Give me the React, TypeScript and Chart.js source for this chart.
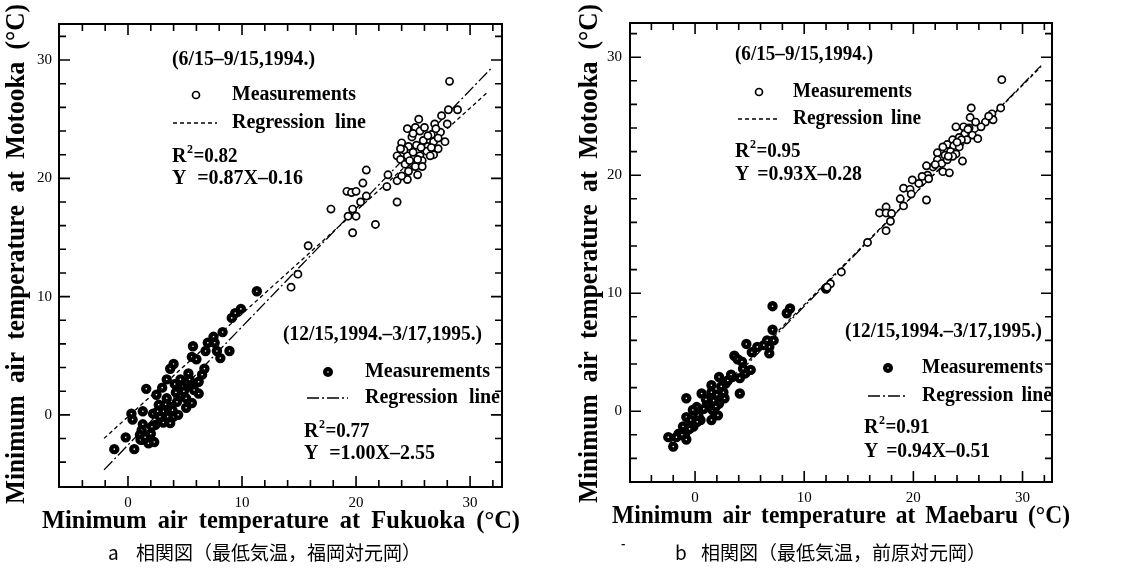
import React, { useEffect, useRef } from "react";
import { Chart, registerables } from "chart.js";
Chart.register(...registerables);

const PAGE_W = 1127;
const PAGE_H = 572;

const xTickLabels = [0, 10, 20, 30];
const yTickLabels = [0, 10, 20, 30];
const tickMarks = [-4, -2, 0, 2, 4, 6, 8, 10, 12, 14, 16, 18, 20, 22, 24, 26, 28, 30, 32];

// ---------- Panel a : Fukuoka vs Motooka ----------
const aSummerX = [28.2, 28.9, 28.1, 27.5, 26.9, 28.0, 25.5, 24.5, 25.2, 25.6, 26.6, 27.4, 24.9, 25.9, 24.0, 24.6, 25.3, 26.8, 27.8, 27.2, 26.3, 27.2, 23.6, 24.5, 25.0, 25.6, 26.2, 26.8, 23.9, 24.9, 25.8, 26.5, 24.3, 25.2, 25.8, 24.6, 25.4, 24.5, 23.6, 22.8, 22.7, 24.0, 23.6, 20.9, 20.6, 20.9, 20.4, 19.2, 19.6, 20.0, 19.7, 19.3, 20.0, 17.8, 21.7, 19.7, 15.8, 14.9, 14.3, 26.0, 25.0, 26.3, 24.2, 25.7, 27.0, 23.9, 26.6, 25.4, 24.7];
const aSummerY = [28.2, 25.8, 25.8, 25.3, 24.6, 24.6, 25.0, 24.2, 24.3, 24.0, 23.7, 23.9, 23.5, 23.2, 23.0, 22.7, 22.8, 23.1, 23.1, 23.4, 22.7, 22.5, 21.9, 21.9, 22.2, 21.9, 22.3, 22.0, 21.6, 21.3, 21.5, 21.9, 21.2, 21.0, 21.0, 20.6, 20.3, 19.9, 19.8, 20.3, 19.3, 20.2, 18.0, 20.7, 19.6, 18.5, 18.0, 18.9, 18.8, 18.9, 17.4, 16.8, 16.8, 17.4, 16.1, 15.4, 14.3, 11.9, 10.8, 24.3, 23.8, 23.6, 22.4, 22.6, 24.2, 22.5, 22.6, 21.6, 21.5];
const aWinterX = [11.3, 9.9, 9.4, 9.1, 8.3, 7.5, 7.0, 7.6, 6.8, 7.8, 8.9, 8.1, 5.7, 5.6, 6.0, 4.0, 3.7, 3.4, 4.6, 5.4, 6.5, 6.2, 4.8, 5.6, 3.0, 1.6, 6.2, 2.5, 3.4, 4.6, 5.1, 4.3, 5.6, 5.1, 2.7, 3.1, 3.7, 2.2, 1.3, 0.3, 0.4, 2.8, 3.5, 4.0, 3.1, 3.7, 2.4, 1.3, 2.1, 1.2, 1.05, 1.3, 1.8, 2.3, 1.1, -0.2, 0.55, -1.2, 4.2, 4.9, 3.9, 4.4, 2.0, 1.5, 5.8, 5.3, 4.1, 3.3, 2.6, 6.7];
const aWinterY = [10.45, 8.96, 8.6, 8.2, 7.0, 6.6, 6.1, 6.1, 5.4, 5.4, 5.4, 4.8, 5.8, 4.9, 4.7, 4.3, 3.9, 3.0, 3.0, 3.0, 3.4, 2.8, 2.4, 2.4, 2.3, 2.2, 1.8, 1.7, 1.4, 1.7, 1.4, 1.1, 1.0, 0.6, 0.85, 0.3, 0.7, 0.1, 0.3, 0.1, -0.4, -0.15, -0.15, -0.15, -0.65, -0.7, -0.85, -0.8, -1.0, -1.3, -1.7, -2.1, -2.4, -2.3, -2.1, -1.9, -2.9, -2.9, 1.9, 2.0, 0.4, 0.0, -1.6, -1.9, 2.1, 3.5, 2.6, 0.9, 0.3, 3.9];
const aSummerFit = [0.87, -0.16];
const aWinterFit = [1.0, -2.55];
const aSummerLineX = [-2.1, 31.5];
const aWinterLineX = [-2.1, 31.8];

// ---------- Panel b : Maebaru vs Motooka ----------
const bSummerX = [28.1, 28.0, 27.2, 27.3, 26.6, 26.2, 25.3, 25.2, 25.7, 23.9, 24.6, 25.1, 24.7, 25.4, 24.2, 24.9, 25.9, 23.6, 23.1, 23.7, 24.2, 22.7, 23.4, 23.9, 22.2, 22.9, 23.6, 22.2, 22.6, 23.1, 24.5, 21.8, 21.2, 22.7, 23.3, 21.3, 20.8, 21.4, 19.9, 20.5, 19.1, 19.7, 19.8, 18.8, 21.2, 19.1, 17.5, 16.9, 17.5, 18.0, 17.9, 17.5, 15.8, 13.4, 12.4, 12.1, 24.4, 23.2, 25.0, 24.0, 22.0, 26.9];
const bSummerY = [28.1, 25.7, 25.2, 24.7, 24.5, 24.1, 25.7, 24.9, 24.5, 24.1, 24.1, 24.0, 23.5, 23.4, 23.2, 23.0, 23.1, 23.0, 22.6, 22.5, 22.4, 22.4, 22.0, 21.8, 21.9, 21.7, 21.6, 21.3, 21.0, 21.3, 21.2, 20.7, 20.8, 20.3, 20.2, 20.0, 19.9, 19.7, 19.6, 19.3, 18.9, 18.8, 18.4, 18.0, 17.9, 17.4, 17.3, 16.8, 16.8, 16.75, 16.1, 15.3, 14.3, 11.8, 10.8, 10.5, 23.0, 21.6, 23.9, 22.8, 20.9, 25.0];
const bWinterX = [7.1, 8.7, 8.4, 7.1, 7.2, 6.6, 6.8, 6.8, 4.7, 5.7, 5.2, 3.6, 3.9, 4.3, 5.1, 4.6, 3.4, 4.1, 2.2, 2.8, 1.5, 2.4, 4.1, 0.6, 1.5, 2.0, 2.7, -0.8, 1.7, 1.1, 2.2, 0.15, 0.8, 1.6, -0.2, 2.1, 0.3, -0.8, -0.4, 1.5, 0.5, -0.15, -1.1, -0.9, -1.5, -2.45, -1.7, -0.8, -2.0, 12.0, 3.0, 3.3, 1.0, 0.2, -0.5, 2.6, 4.4, 6.3, 1.9, -1.2];
const bWinterY = [8.9, 8.7, 8.3, 6.9, 6.0, 6.0, 5.45, 4.9, 5.7, 5.45, 5.0, 4.7, 4.4, 4.2, 3.5, 3.2, 2.9, 2.8, 2.9, 2.35, 2.2, 2.1, 1.5, 1.5, 1.6, 1.4, 1.1, 1.1, 0.9, 0.65, 0.65, 0.35, 0.2, 0.1, 0.1, -0.35, -0.35, -0.5, -0.75, -0.75, -0.75, -1.3, -1.3, -1.9, -1.9, -2.2, -2.2, -2.4, -3.0, 10.4, 2.6, 3.1, 1.0, -0.9, -1.5, 1.6, 3.6, 5.6, 0.4, -2.0];
const bSummerFit = [0.93, -0.28];
const bWinterFit = [0.94, -0.51];
const bSummerLineX = [-2.3, 31.7];
const bWinterLineX = [-2.3, 31.7];

const NOTE_FONT = "bold 20px 'Liberation Serif'";

type Note = { t: string; x0: number; x1: number; y: number };
type R2 = { t: string; x: number; y: number };
type Glyph = { kind: string; x0: number; x1: number; y: number };

interface PanelCfg {
  area: { left: number; top: number; right: number; bottom: number };
  range: { xMin: number; xMax: number; yMin: number; yMax: number };
  summerX: number[]; summerY: number[]; winterX: number[]; winterY: number[];
  summerFit: number[]; winterFit: number[]; summerLineX: number[]; winterLineX: number[];
  xTitle: string; xTitlePos: number[]; xTitleSize: number;
  yTitle: string; yTitlePos: number[]; yTitleSize: number;
  yTickPad: number;
  notes: Note[]; r2: R2[]; glyphs: Glyph[];
}

const panelA: PanelCfg = {
  area: { left: 59, top: 24, right: 502, bottom: 487 },
  range: { xMin: -6.05, xMax: 32.8, yMin: -6.1, yMax: 33.05 },
  summerX: aSummerX, summerY: aSummerY, winterX: aWinterX, winterY: aWinterY,
  summerFit: aSummerFit, winterFit: aWinterFit, summerLineX: aSummerLineX, winterLineX: aWinterLineX,
  xTitle: "Minimum air temperature at Fukuoka (°C)", xTitlePos: [42, 520, 521], xTitleSize: 26,
  yTitle: "Minimum air temperature at Motooka (°C)", yTitlePos: [17, 504, 4], yTitleSize: 27,
  yTickPad: 7,
  notes: [
    { t: "(6/15–9/15,1994.)", x0: 172, x1: 315, y: 60 },
    { t: "Measurements", x0: 232, x1: 356, y: 95 },
    { t: "Regression line", x0: 232, x1: 366, y: 123 },
    { t: "Y =0.87X–0.16", x0: 172, x1: 303, y: 179 },
    { t: "(12/15,1994.–3/17,1995.)", x0: 283, x1: 482, y: 335 },
    { t: "Measurements", x0: 365, x1: 490, y: 372 },
    { t: "Regression line", x0: 365, x1: 500, y: 398 },
    { t: "Y =1.00X–2.55", x0: 304, x1: 435, y: 454 },
  ],
  r2: [
    { t: "=0.82", x: 172, y: 157 },
    { t: "=0.77", x: 304, y: 432 },
  ],
  glyphs: [
    { kind: "open", x0: 196, x1: 196, y: 95 },
    { kind: "dash", x0: 173, x1: 217, y: 123 },
    { kind: "filled", x0: 328, x1: 328, y: 372 },
    { kind: "dashdot", x0: 307, x1: 348, y: 398 },
  ],
};

const panelB: PanelCfg = {
  area: { left: 630, top: 23, right: 1052, bottom: 482 },
  range: { xMin: -5.96, xMax: 32.7, yMin: -6.0, yMax: 32.9 },
  summerX: bSummerX, summerY: bSummerY, winterX: bWinterX, winterY: bWinterY,
  summerFit: bSummerFit, winterFit: bWinterFit, summerLineX: bSummerLineX, winterLineX: bWinterLineX,
  xTitle: "Minimum air temperature at Maebaru (°C)", xTitlePos: [612, 1070, 517], xTitleSize: 25,
  yTitle: "Minimum air temperature at Motooka (°C)", yTitlePos: [590, 503, 4], yTitleSize: 27,
  yTickPad: 8,
  notes: [
    { t: "(6/15–9/15,1994.)", x0: 735, x1: 873, y: 55 },
    { t: "Measurements", x0: 793, x1: 912, y: 92 },
    { t: "Regression line", x0: 793, x1: 921, y: 119 },
    { t: "Y =0.93X–0.28", x0: 735, x1: 862, y: 175 },
    { t: "(12/15,1994.–3/17,1995.)", x0: 845, x1: 1042, y: 332 },
    { t: "Measurements", x0: 922, x1: 1043, y: 368 },
    { t: "Regression line", x0: 922, x1: 1052, y: 396 },
    { t: "Y =0.94X–0.51", x0: 864, x1: 990, y: 452 },
  ],
  r2: [
    { t: "=0.95", x: 735, y: 152 },
    { t: "=0.91", x: 864, y: 428 },
  ],
  glyphs: [
    { kind: "open", x0: 759, x1: 759, y: 92 },
    { kind: "dash", x0: 738, x1: 778, y: 119 },
    { kind: "filled", x0: 888, x1: 888, y: 368 },
    { kind: "dashdot", x0: 868, x1: 908, y: 396 },
  ],
};

function fitWords(ctx: CanvasRenderingContext2D, text: string, x0: number, x1: number, cy: number, sx: number, minGap: number) {
  const words = text.split(" ");
  const ws = words.map((w) => ctx.measureText(w).width * sx);
  const total = ws.reduce((a, b) => a + b, 0);
  const target = x1 - x0;
  let gap = words.length > 1 ? (target - total) / (words.length - 1) : 0;
  let scale = 1;
  if (words.length === 1) scale = target / total;
  else if (gap < minGap) {
    gap = minGap;
    scale = (target - gap * (words.length - 1)) / total;
  }
  let x = x0;
  words.forEach((w, i) => {
    ctx.save();
    ctx.translate(x, cy);
    ctx.scale(sx * scale, 1);
    ctx.fillText(w, 0, 0);
    ctx.restore();
    x += ws[i] * scale + gap;
  });
}

function drawR2(ctx: CanvasRenderingContext2D, r: R2) {
  ctx.font = NOTE_FONT;
  ctx.fillText("R", r.x, r.y);
  const w1 = ctx.measureText("R").width;
  ctx.font = "bold 12px 'Liberation Serif'";
  ctx.fillText("2", r.x + w1 + 0.5, r.y - 7);
  const w2 = ctx.measureText("2").width;
  ctx.font = NOTE_FONT;
  ctx.save();
  ctx.translate(r.x + w1 + w2 + 1, r.y);
  ctx.scale(0.95, 1);
  ctx.fillText(r.t, 0, 0);
  ctx.restore();
}

function makeDecor(p: PanelCfg) {
  return {
    id: "decor",
    afterDraw(chart: any) {
      const ctx: CanvasRenderingContext2D = chart.ctx;
      const { left, right, top, bottom } = chart.chartArea;
      const xs = chart.scales.x;
      const ys = chart.scales.y;
      ctx.save();
      ctx.strokeStyle = "#000";
      ctx.fillStyle = "#000";
      ctx.setLineDash([]);
      ctx.lineWidth = 2;
      ctx.strokeRect(left, top, right - left, bottom - top);
      ctx.lineWidth = 1.6;
      ctx.beginPath();
      for (const v of tickMarks) {
        const len = v % 10 === 0 ? 11 : 7;
        if (v >= xs.min && v <= xs.max) {
          const px = xs.getPixelForValue(v);
          ctx.moveTo(px, bottom);
          ctx.lineTo(px, bottom - len);
          ctx.moveTo(px, top);
          ctx.lineTo(px, top + len);
        }
        if (v >= ys.min && v <= ys.max) {
          const py = ys.getPixelForValue(v);
          ctx.moveTo(left, py);
          ctx.lineTo(left + len, py);
          ctx.moveTo(right, py);
          ctx.lineTo(right - len, py);
        }
      }
      ctx.stroke();

      ctx.textBaseline = "middle";
      ctx.textAlign = "left";
      ctx.font = `bold ${p.xTitleSize}px 'Liberation Serif'`;
      fitWords(ctx, p.xTitle, p.xTitlePos[0], p.xTitlePos[1], p.xTitlePos[2], 0.94, 6);
      ctx.save();
      ctx.translate(p.yTitlePos[0], p.yTitlePos[1]);
      ctx.rotate(-Math.PI / 2);
      ctx.font = `bold ${p.yTitleSize}px 'Liberation Serif'`;
      fitWords(ctx, p.yTitle, 0, p.yTitlePos[1] - p.yTitlePos[2], 0, 0.94, 6);
      ctx.restore();

      ctx.font = NOTE_FONT;
      for (const n of p.notes) fitWords(ctx, n.t, n.x0, n.x1, n.y, 1, 8);
      for (const r of p.r2) drawR2(ctx, r);

      for (const g of p.glyphs) {
        ctx.save();
        if (g.kind === "open") {
          ctx.lineWidth = 1.7;
          ctx.beginPath();
          ctx.arc(g.x0, g.y, 3.5, 0, Math.PI * 2);
          ctx.stroke();
        } else if (g.kind === "filled") {
          ctx.beginPath();
          ctx.arc(g.x0, g.y, 5, 0, Math.PI * 2);
          ctx.fill();
          ctx.fillStyle = "#fff";
          ctx.beginPath();
          ctx.arc(g.x0, g.y, 0.8, 0, Math.PI * 2);
          ctx.fill();
        } else {
          ctx.lineWidth = 1.4;
          ctx.setLineDash(g.kind === "dash" ? [4, 3] : [12, 3, 2, 3]);
          ctx.beginPath();
          ctx.moveTo(g.x0, g.y);
          ctx.lineTo(g.x1, g.y);
          ctx.stroke();
        }
        ctx.restore();
      }
      ctx.restore();
    },
  };
}

function toPts(xs: number[], ys: number[]) {
  return xs.map((x, i) => ({ x, y: ys[i] }));
}
function linePts(xs: number[], fit: number[]) {
  return xs.map((x) => ({ x, y: fit[0] * x + fit[1] }));
}

function buildConfig(p: PanelCfg): any {
  const Y_AXIS_W = 40;
  const X_AXIS_H = 30;
  const tickFont = { family: "'Liberation Serif'", size: 15 };
  return {
    type: "scatter",
    data: {
      datasets: [
        {
          type: "line",
          data: linePts(p.summerLineX, p.summerFit),
          borderColor: "#000",
          borderWidth: 1.3,
          borderDash: [4, 3],
          pointRadius: 0,
          fill: false,
          order: 4,
        },
        {
          type: "line",
          data: linePts(p.winterLineX, p.winterFit),
          borderColor: "#000",
          borderWidth: 1.3,
          borderDash: [12, 3, 2, 3],
          pointRadius: 0,
          fill: false,
          order: 3,
        },
        {
          data: toPts(p.summerX, p.summerY),
          pointRadius: 3.6,
          pointBorderWidth: 1.7,
          pointBackgroundColor: "#fff",
          pointBorderColor: "#000",
          order: 1,
        },
        {
          data: toPts(p.winterX, p.winterY),
          pointRadius: 3.0,
          pointBorderWidth: 4.4,
          pointBackgroundColor: "#fff",
          pointBorderColor: "#000",
          order: 2,
        },
      ],
    },
    options: {
      responsive: false,
      animation: false,
      events: [],
      layout: {
        padding: {
          left: p.area.left - Y_AXIS_W,
          right: PAGE_W - p.area.right,
          top: p.area.top,
          bottom: PAGE_H - p.area.bottom - X_AXIS_H,
        },
      },
      plugins: { legend: { display: false }, tooltip: { enabled: false } },
      scales: {
        x: {
          type: "linear",
          position: "bottom",
          min: p.range.xMin,
          max: p.range.xMax,
          grid: { display: false, drawTicks: false },
          border: { display: false },
          ticks: { font: tickFont, color: "#000", padding: 7, maxRotation: 0 },
          afterBuildTicks: (s: any) => {
            s.ticks = xTickLabels.map((v) => ({ value: v }));
          },
          afterFit: (s: any) => {
            s.height = X_AXIS_H;
          },
        },
        y: {
          type: "linear",
          position: "left",
          min: p.range.yMin,
          max: p.range.yMax,
          grid: { display: false, drawTicks: false },
          border: { display: false },
          ticks: { font: tickFont, color: "#000", padding: p.yTickPad },
          afterBuildTicks: (s: any) => {
            s.ticks = yTickLabels.map((v) => ({ value: v }));
          },
          afterFit: (s: any) => {
            s.width = Y_AXIS_W;
          },
        },
      },
    },
    plugins: [makeDecor(p)],
  };
}

function PanelChart({ p }: { p: PanelCfg }) {
  const ref = useRef<HTMLCanvasElement>(null);
  useEffect(() => {
    const chart = new Chart(ref.current as HTMLCanvasElement, buildConfig(p));
    return () => chart.destroy();
  }, []);
  return (
    <canvas
      ref={ref}
      width={PAGE_W}
      height={PAGE_H}
      style={{ position: "absolute", left: 0, top: 0, width: PAGE_W, height: PAGE_H }}
    />
  );
}

const capStyle: React.CSSProperties = {
  position: "absolute",
  top: 542,
  fontFamily: "'Noto Sans CJK JP'",
  fontSize: 19,
  lineHeight: "19px",
  whiteSpace: "pre",
  color: "#000",
};

export default function App() {
  return (
    <div style={{ position: "absolute", left: 0, top: 0, width: PAGE_W, height: PAGE_H, background: "#fff", overflow: "hidden" }}>
      <PanelChart p={panelA} />
      <PanelChart p={panelB} />
      <div style={{ ...capStyle, left: 108 }}>a</div>
      <div style={{ ...capStyle, left: 136 }}>相関図（最低気温，福岡対元岡）</div>
      <div style={{ ...capStyle, left: 621, top: 533, fontSize: 12, fontWeight: "bold" }}>-</div>
      <div style={{ ...capStyle, left: 675 }}>b</div>
      <div style={{ ...capStyle, left: 701 }}>相関図（最低気温，前原対元岡）</div>
    </div>
  );
}
